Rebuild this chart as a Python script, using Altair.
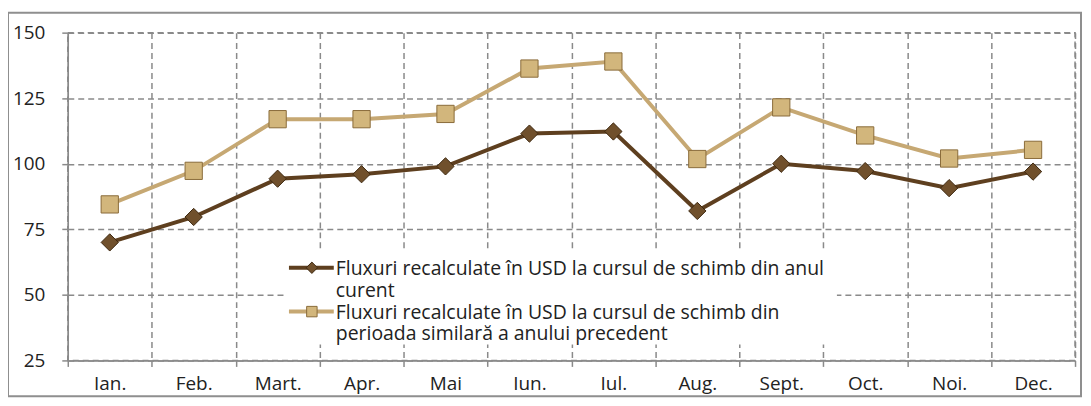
import altair as alt
import pandas as pd

months = ["Ian.", "Feb.", "Mart.", "Apr.", "Mai", "Iun.", "Iul.", "Aug.", "Sept.", "Oct.", "Noi.", "Dec."]
series_names = [
    "Fluxuri recalculate în USD la cursul de schimb din anul|curent",
    "Fluxuri recalculate în USD la cursul de schimb din|perioada similară a anului precedent",
]
curent = [70, 79.7, 94.3, 96, 99, 111.5, 112.3, 82, 100, 97.2, 90.7, 97]
precedent = [84.5, 97.3, 117, 117, 119, 136.3, 139, 101.8, 121.5, 110.8, 102, 105.3]
y_ticks = [25, 50, 75, 100, 125, 150]

rows = []
for i, m in enumerate(months):
    rows.append({"luna": m, "serie": series_names[0], "valoare": curent[i]})
    rows.append({"luna": m, "serie": series_names[1], "valoare": precedent[i]})
df = pd.DataFrame(rows)

W, H = 1011, 329
FONT = "Open Sans"
FS = 19
LFS = 19.5
DARK = "#5e3f1f"
LIGHT = "#c6a873"
GRID = "#8a8a8a"
D_FILL, D_STROKE = "#70502c", "#3d2810"
S_FILL, S_STROKE = "#d2b67c", "#8a6b3a"

x = alt.X(
    "luna:N", sort=months,
    scale=alt.Scale(paddingInner=0, paddingOuter=0),
    axis=alt.Axis(title=None, labelAngle=0, tickBand="extent", grid=True, tickSize=6,
                  labelPadding=8, labelFontSize=FS),
)
y = alt.Y(
    "valoare:Q",
    scale=alt.Scale(domain=[25, 150], nice=False, zero=False),
    axis=alt.Axis(title=None, values=y_ticks, tickSize=6, labelPadding=17, labelFontSize=FS),
)
color = alt.Color("serie:N", scale=alt.Scale(domain=series_names, range=[DARK, LIGHT]), legend=None)

lines = alt.Chart(df).mark_line(strokeWidth=4).encode(x=x, y=y, color=color)

pts_dark = alt.Chart(df).transform_filter(alt.datum.serie == series_names[0]).mark_point(
    shape="diamond", filled=True, size=300, fill=D_FILL, stroke=D_STROKE, strokeWidth=1, opacity=1
).encode(x=x, y=y)
pts_light = alt.Chart(df).transform_filter(alt.datum.serie == series_names[1]).mark_point(
    shape="square", filled=True, size=300, fill=S_FILL, stroke=S_STROKE, strokeWidth=1, opacity=1
).encode(x=x, y=y)

# legend (drawn inside the plot area, as in the original)
leg_df = pd.DataFrame({"serie": series_names})
leg_bg = alt.Chart(leg_df.head(1)).mark_rect(fill="white", stroke=None).encode(
    x=alt.value(217), x2=alt.value(772), y=alt.value(219), y2=alt.value(313)
)
leg_items = []
for i, (col, shp, fcol, scol) in enumerate([
    (DARK, "diamond", D_FILL, D_STROKE), (LIGHT, "square", S_FILL, S_STROKE)
]):
    yc = 236 + i * 44
    one = leg_df.iloc[[i]]
    leg_items.append(alt.Chart(one).mark_rule(stroke=col, strokeWidth=4).encode(
        x=alt.value(222), x2=alt.value(267), y=alt.value(yc)))
    leg_items.append(alt.Chart(one).mark_point(
        shape=shp, filled=True, size=130 if shp == "diamond" else 110,
        fill=fcol, stroke=scol, strokeWidth=1, opacity=1).encode(
        x=alt.value(245), y=alt.value(yc)))
    leg_items.append(alt.Chart(one).mark_text(
        align="left", baseline="alphabetic", lineBreak="|", lineHeight=22,
        font=FONT, fontSize=LFS, color="#222222").encode(
        text="serie:N", x=alt.value(269), y=alt.value(yc + 7)))

frame = alt.Chart(leg_df.head(1)).mark_rect(
    filled=False, stroke="#8f8f8f", strokeWidth=2
).encode(x=alt.value(-60), x2=alt.value(1017), y=alt.value(-20), y2=alt.value(365))

chart = alt.layer(lines, pts_dark, pts_light, leg_bg, *leg_items, frame).properties(
    width=W, height=H,
    autosize=alt.AutoSizeParams(type="none"),
    padding={"left": 60, "top": 24, "right": 8, "bottom": 40},
).configure_view(
    stroke=GRID, strokeDash=[6, 4], strokeWidth=1.5
).configure_axis(
    labelFont=FONT, labelColor="#222222",
    gridColor=GRID, gridDash=[6, 4], gridWidth=1.5, gridOpacity=1,
    domainColor="#8a8a8a", domainWidth=1.5, tickColor="#8a8a8a", tickWidth=1.5,
)

chart.save("out.html", embed_options={"renderer": "svg", "actions": False})
